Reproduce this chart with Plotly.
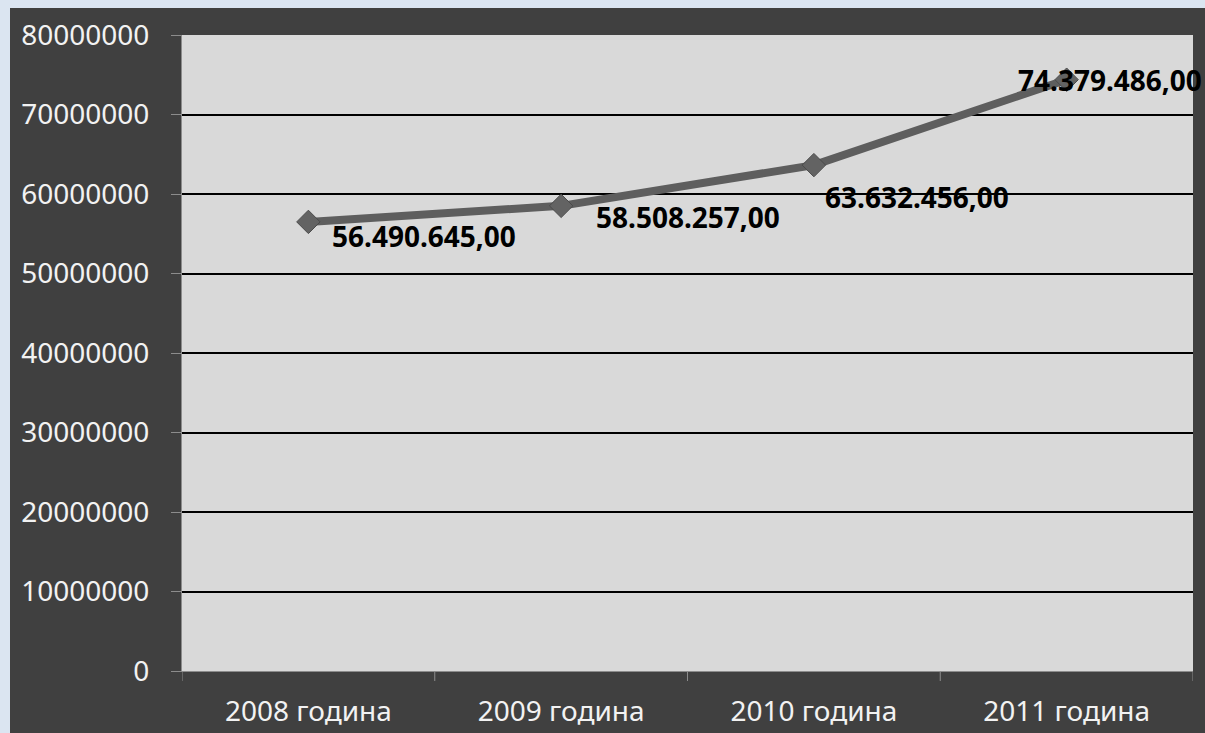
import plotly.graph_objects as go

# Yearly totals
categories = ["2008 година", "2009 година", "2010 година", "2011 година"]
values = [56490645.00, 58508257.00, 63632456.00, 74379486.00]
y_ticks = [0, 10000000, 20000000, 30000000, 40000000, 50000000, 60000000, 70000000, 80000000]

# Label offsets in pixels (dx, dy) relative to each point
label_offsets = [(22, -14), (33, -11), (9, -32), (-51, 0)]


def fmt_value(v):
    s = f"{v:,.2f}"
    return s.replace(",", " ").replace(".", ",").replace(" ", ".")


W, H = 1205, 733
L, R, T, B = 182, 12, 35, 62
plot_w = W - L - R
plot_h = H - T - B

DARK = "#404040"
PLOT_BG = "#d9d9d9"
EDGE = "#dbe5f1"
AXIS_GREY = "#8c8c8c"

fig = go.Figure()
fig.add_trace(go.Scatter(
    x=list(range(len(categories))),
    y=values,
    mode="lines+markers",
    line=dict(color="#5e5e5e", width=8),
    marker=dict(symbol="diamond", size=18, color="#636363",
                line=dict(color="#4a4a4a", width=1)),
    cliponaxis=False,
    hoverinfo="skip",
    showlegend=False,
))

for i, v in enumerate(values):
    dx, dy = label_offsets[i]
    fig.add_annotation(
        x=i, y=v, xref="x", yref="y",
        text=f"<b>{fmt_value(v)}</b>",
        showarrow=False,
        xanchor="left", yanchor="middle",
        xshift=dx, yshift=dy,
        font=dict(family="Noto Sans", size=28, color="#000000"),
    )

# Light strips along the left and top edges of the page
px = lambda p: (p - L) / plot_w
py = lambda p: 1 - (p - T) / plot_h
fig.add_shape(type="rect", xref="paper", yref="paper",
              x0=px(0), x1=px(10), y0=py(H), y1=py(0),
              fillcolor=EDGE, line=dict(width=0), layer="below")
fig.add_shape(type="rect", xref="paper", yref="paper",
              x0=px(0), x1=px(W), y0=py(8), y1=py(0),
              fillcolor=EDGE, line=dict(width=0), layer="below")

fig.update_layout(
    width=W, height=H,
    margin=dict(l=L, r=R, t=T, b=B, pad=0),
    paper_bgcolor=DARK,
    plot_bgcolor=PLOT_BG,
    font=dict(family="Noto Sans", color="#f2f2f2"),
)

fig.update_xaxes(
    type="linear",
    automargin=False,
    range=[-0.5, len(categories) - 0.5],
    tickvals=list(range(len(categories))),
    ticktext=categories,
    showgrid=False,
    zeroline=False,
    showline=True, linecolor=AXIS_GREY, linewidth=1,
    ticks="",
    tickfont=dict(family="Noto Sans", size=28, color="#f2f2f2"),
    ticklabelstandoff=15,
)
# Boundary tick marks between categories
for b in [-0.5, 0.5, 1.5, 2.5, 3.5]:
    fig.add_shape(type="line", xref="x", yref="paper",
                  x0=b, x1=b, y0=0, y1=-10 / plot_h,
                  line=dict(color=AXIS_GREY, width=1))

fig.update_yaxes(
    automargin=False,
    range=[0, 80000000],
    tickvals=y_ticks,
    tickformat="d",
    showgrid=True, gridcolor="#000000", gridwidth=2,
    zeroline=False,
    showline=True, linecolor=AXIS_GREY, linewidth=1,
    ticks="outside", ticklen=10, tickcolor=AXIS_GREY, tickwidth=1,
    tickfont=dict(family="Noto Sans", size=28, color="#f2f2f2"),
    ticklabelstandoff=16,
)

fig.write_html("out.html")
